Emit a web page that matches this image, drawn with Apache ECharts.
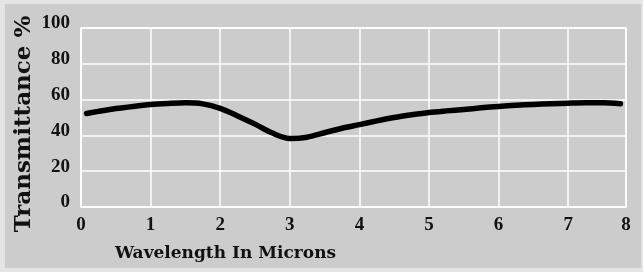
<!DOCTYPE html>
<html>
<head>
<meta charset="utf-8">
<script src="https://cdn.jsdelivr.net/npm/echarts@6/dist/echarts.min.js"></script>
<style>
  html, body { margin: 0; padding: 0; background: #e4e4e4; }
  #panel { position: absolute; left: 5px; top: 4px; width: 636px; height: 264px; background: #cccccc; }
  #chart { position: absolute; left: 0; top: 0; width: 643px; height: 272px; }
</style>
</head>
<body>
<div id="panel"></div>
<div id="chart"></div>
<script>
// wavelength (microns) and transmittance (%)
var wavelength = [0.08, 0.25, 0.5, 0.75, 1.0, 1.25, 1.5, 1.75, 2.0, 2.25, 2.5, 2.75, 3.0, 3.25, 3.5, 3.75,
  4.0, 4.25, 4.5, 4.75, 5.0, 5.25, 5.5, 5.75, 6.0, 6.25, 6.5, 6.75, 7.0, 7.25, 7.5, 7.75];
var transmittance = [52.2, 53.4, 55.0, 56.2, 57.2, 57.8, 58.2, 57.6, 55.1, 50.9, 46.3, 41.3, 38.3, 39.0, 41.5, 44.0,
  46.0, 48.1, 50.0, 51.5, 52.8, 53.7, 54.5, 55.4, 56.2, 56.8, 57.3, 57.7, 58.0, 58.2, 58.2, 57.7];
var xTickLabels = ['0', '1', '2', '3', '4', '5', '6', '7', '8'];
var yTickLabels = ['0', '20', '40', '60', '80', '100'];

var points = wavelength.map(function (w, i) { return [w, transmittance[i]]; });

var myChart = echarts.init(document.getElementById('chart'));

var tickFont = {
  fontFamily: 'Liberation Serif',
  fontWeight: 'bold',
  fontSize: 19,
  color: '#111'
};

var option = {
  animation: false,
  title: {
    text: 'Wavelength In Microns',
    left: 110,
    top: 240,
    textStyle: { fontFamily: 'DejaVu Serif', fontWeight: 'bold', fontSize: 17, color: '#111' }
  },
  // y axis title, rotated
  graphic: [{
    type: 'text',
    x: 24,
    y: 124,
    rotation: Math.PI / 2,
    style: {
      text: 'Transmittance %',
      align: 'center',
      verticalAlign: 'middle',
      font: 'bold 23px "DejaVu Serif"',
      fill: '#111'
    }
  }],
  grid: {
    left: 81,
    right: 17,
    top: 28,
    bottom: 65,
    show: true,
    borderColor: '#ffffff',
    borderWidth: 1.5,
    backgroundColor: 'transparent'
  },
  xAxis: {
    type: 'value',
    min: 0,
    max: 7.83,
    interval: 1,
    axisLine: { show: false },
    axisTick: { show: false },
    splitLine: { show: true, lineStyle: { color: '#ffffff', width: 1.5 } },
    axisLabel: Object.assign({
      margin: 9,
      showMaxLabel: true,
      formatter: function (v) { return xTickLabels[Math.round(v)]; }
    }, tickFont)
  },
  yAxis: {
    type: 'value',
    min: 0,
    max: 100,
    interval: 20,
    axisLine: { show: false },
    axisTick: { show: false },
    splitLine: { show: true, lineStyle: { color: '#ffffff', width: 1.5 } },
    axisLabel: Object.assign({
      margin: 11,
      verticalAlign: 'bottom',
      lineHeight: 9,
      formatter: function (v) { return yTickLabels[Math.round(v / 20)]; }
    }, tickFont)
  },
  series: [
    {
      type: 'line',
      data: points,
      smooth: 0.3,
      symbol: 'none',
      lineStyle: { color: '#000000', width: 5.5, cap: 'round', join: 'round' }
    }
  ]
};

myChart.setOption(option);
</script>
</body>
</html>
